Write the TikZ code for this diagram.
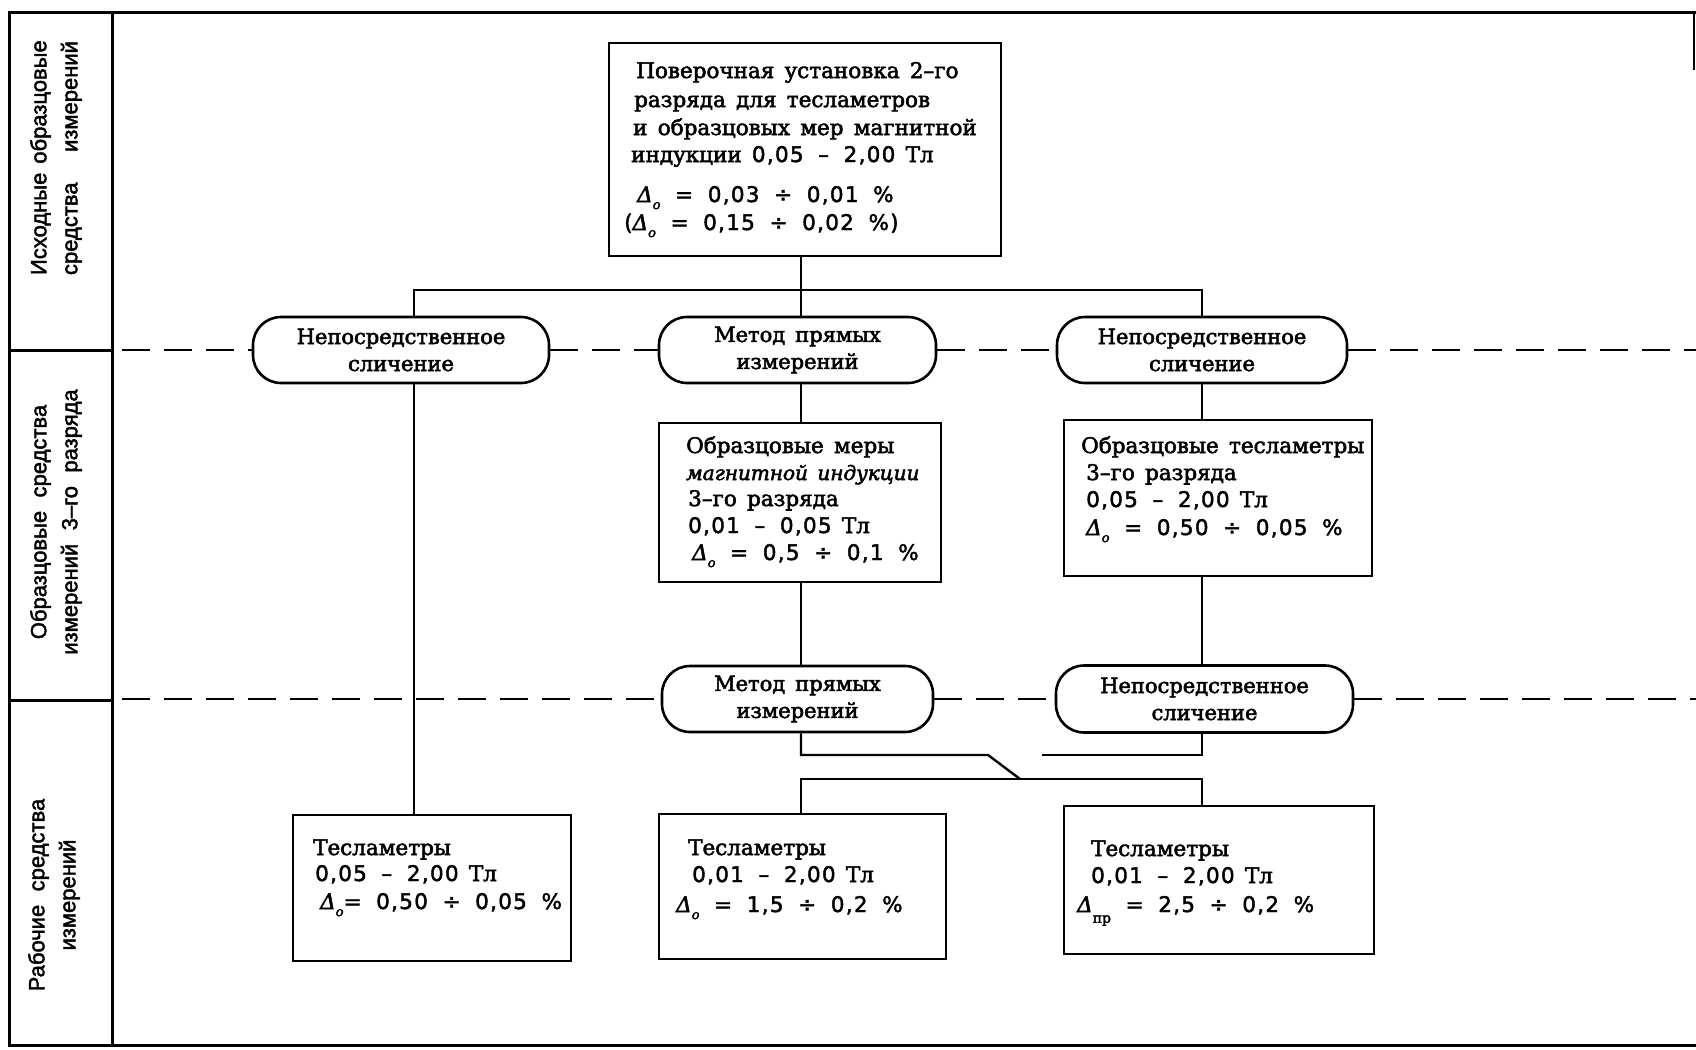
\documentclass[tikz,border=0pt]{standalone}
\usepackage{fontspec}
\setmainfont{DejaVu Serif}[WordSpace=1.5, FakeBold=2.5]
\newfontfamily\labfont{Liberation Sans}[WordSpace=2.2, FakeBold=2]
\newfontfamily\numf{DejaVu Sans}[WordSpace=1.8, LetterSpace=6, FakeBold=2]
\usetikzlibrary{calc}
\newcommand\Dz{\textit{Δ}\raisebox{-0.33em}{\fontsize{13}{13}\selectfont\textit{о}}}
\newcommand\Dpr{\textit{Δ}\raisebox{-0.5em}{\fontsize{14}{14}\selectfont пр}}
\newcommand\Tl{{\rmfamily Тл}}
\newcommand\txtline[4]{\node[txt, anchor=base west] (#1) at (#2,#3) {#4};}
\begin{document}
\begin{tikzpicture}[x=1pt,y=-1pt,
  frame/.style={line width=3pt, line cap=rect},
  conn/.style={line width=2.4pt},
  dashln/.style={line width=2.8pt, dash pattern=on 28pt off 14pt},
  box/.style={draw, line width=2.8pt, inner sep=0pt},
  oval/.style={draw, line width=2.6pt, rounded corners=28pt, inner sep=0pt, align=center, font=\fontsize{21}{27}\selectfont},
  txt/.style={inner sep=0pt, font=\fontsize{21.5}{27}\selectfont},
  lab/.style={inner sep=0pt, align=center, rotate=90, font=\labfont\fontsize{22}{31}\selectfont}]
\useasboundingbox (0,0) rectangle (1696,1049);

% frame
\draw[frame] (9,13) -- (9,1045) -- (1696,1045);
\draw[frame] (9,13) -- (1696,13);
\draw[line width=2pt] (1694,13) -- (1694,70);
\draw[frame] (112,13) -- (112,1045);
\draw[frame] (9,350) -- (112,350);
\draw[frame] (9,700) -- (112,700);

% left column labels
\node[lab] (c1) at (56,158) {\makebox[234pt][s]{Исходные образцовые}\\\makebox[234pt][s]{средства измерений}};
\node[lab] (c2) at (56,522) {Образцовые средства\\измерений 3–го разряда};
\node[lab] (c3) at (54,895) {Рабочие средства\\измерений};

% columns
\coordinate (colL) at (414,0);
\coordinate (colM) at (801,0);
\coordinate (colR) at (1202,0);

% boxes
\node[box, minimum width=392pt, minimum height=213pt] (top) at (805,149.5) {};
\node[box, minimum width=282pt, minimum height=159pt] (mid2) at (800,502.5) {};
\node[box, minimum width=308pt, minimum height=156pt] (rgt2) at (1218,498) {};
\node[box, minimum width=278pt, minimum height=146pt] (botL) at (432,888) {};
\node[box, minimum width=287pt, minimum height=145pt] (botM) at (802.5,886.5) {};
\node[box, minimum width=310pt, minimum height=148pt] (botR) at (1219,880) {};

% ovals
\node[oval, minimum width=296pt, minimum height=66pt] (ovL1) at (401,350) {Непосредственное\\сличение};
\node[oval, minimum width=277pt, minimum height=66pt] (ovM1) at (797.5,350) {Метод прямых\\измерений};
\node[oval, minimum width=290pt, minimum height=66pt] (ovR1) at (1202,350) {Непосредственное\\сличение};
\node[oval, minimum width=271pt, minimum height=66pt] (ovM2) at (797.5,699) {Метод прямых\\измерений};
\node[oval, minimum width=297pt, minimum height=67pt] (ovR2) at (1204.5,699) {Непосредственное\\сличение};

% dashed level lines
\coordinate (d1s) at (122,350);
\coordinate (d1e) at (1696,350);
\coordinate (d2s) at (122,699);
\coordinate (d2e) at (1696,699);
\draw[dashln] (d1s) -- (ovL1.west);
\draw[dashln] (ovL1.east) -- (ovM1.west);
\draw[dashln] (ovM1.east) -- (ovR1.west);
\draw[dashln] (ovR1.east) -- (d1e);
\draw[dashln] (d2s) -- (ovM2.west);
\draw[dashln] (ovM2.east) -- (ovR2.west);
\draw[dashln] (ovR2.east) -- (d2e);

% connectors
\coordinate (busL) at (414,290);
\coordinate (busR) at (1202,290);
\draw[conn] (top.south -| colM) -- (ovM1.north -| colM);
\draw[conn] (ovL1.north -| colL) -- (busL) -- (busR) -- (ovR1.north -| colR);
\draw[conn] (ovL1.south -| colL) -- (botL.north -| colL);
\draw[conn] (ovM1.south -| colM) -- (mid2.north -| colM);
\draw[conn] (mid2.south -| colM) -- (ovM2.north -| colM);
\draw[conn] (ovR1.south -| colR) -- (rgt2.north -| colR);
\draw[conn] (rgt2.south -| colR) -- (ovR2.north -| colR);
\coordinate (j1) at (801,755);
\coordinate (j2) at (988,755);
\coordinate (j3) at (1020,779);
\coordinate (j4L) at (801,779);
\coordinate (j4R) at (1202,779);
\coordinate (j5) at (1042,755);
\draw[conn] (ovM2.south -| colM) -- (j1) -- (j2) -- (j3);
\draw[conn] (botM.north -| colM) -- (j4L) -- (j4R) -- (botR.north -| colR);
\draw[conn] (ovR2.south -| colR) |- (j5);

% texts: top box
\txtline{t1}{636}{78}{Поверочная установка 2–го}
\txtline{t2}{634}{107}{разряда для тесламетров}
\txtline{t3}{633}{135}{и образцовых мер магнитной}
\txtline{t4}{631}{162}{индукции {\numf 0,05 – 2,00} \Tl}
\txtline{t5}{637}{202}{\Dz{\numf{} = 0,03 ÷ 0,01 \%}}
\txtline{t6}{624}{230}{{\numf(}\Dz{\numf{} = 0,15 ÷ 0,02 \%)}}

% middle box row 2
\txtline{m1}{686}{453}{Образцовые меры}
\txtline{m2}{686}{480}{\fontsize{20}{27}\selectfont\textit{магнитной индукции}}
\txtline{m3}{688}{506}{3–го разряда}
\txtline{m4}{688}{533}{{\numf 0,01 – 0,05} \Tl}
\txtline{m5}{692}{560}{\Dz{\numf{} = 0,5 ÷ 0,1 \%}}

% right box row 2
\txtline{r1}{1081}{453}{Образцовые тесламетры}
\txtline{r2}{1086}{480}{3–го разряда}
\txtline{r3}{1086}{507}{{\numf 0,05 – 2,00} \Tl}
\txtline{r4}{1086}{535}{\Dz{\numf{} = 0,50 ÷ 0,05 \%}}

% bottom boxes
\txtline{bl1}{313}{855}{Тесламетры}
\txtline{bl2}{315}{881}{{\numf 0,05 – 2,00} \Tl}
\txtline{bl3}{320}{909}{\Dz{\numf= 0,50 ÷ 0,05 \%}}
\txtline{bm1}{688}{855}{Тесламетры}
\txtline{bm2}{692}{882}{{\numf 0,01 – 2,00} \Tl}
\txtline{bm3}{676}{912}{\Dz{\numf{} = 1,5 ÷ 0,2 \%}}
\txtline{br1}{1091}{856}{Тесламетры}
\txtline{br2}{1091}{883}{{\numf 0,01 – 2,00} \Tl}
\txtline{br3}{1077}{912}{\Dpr{\numf{} = 2,5 ÷ 0,2 \%}}
\end{tikzpicture}
\end{document}
